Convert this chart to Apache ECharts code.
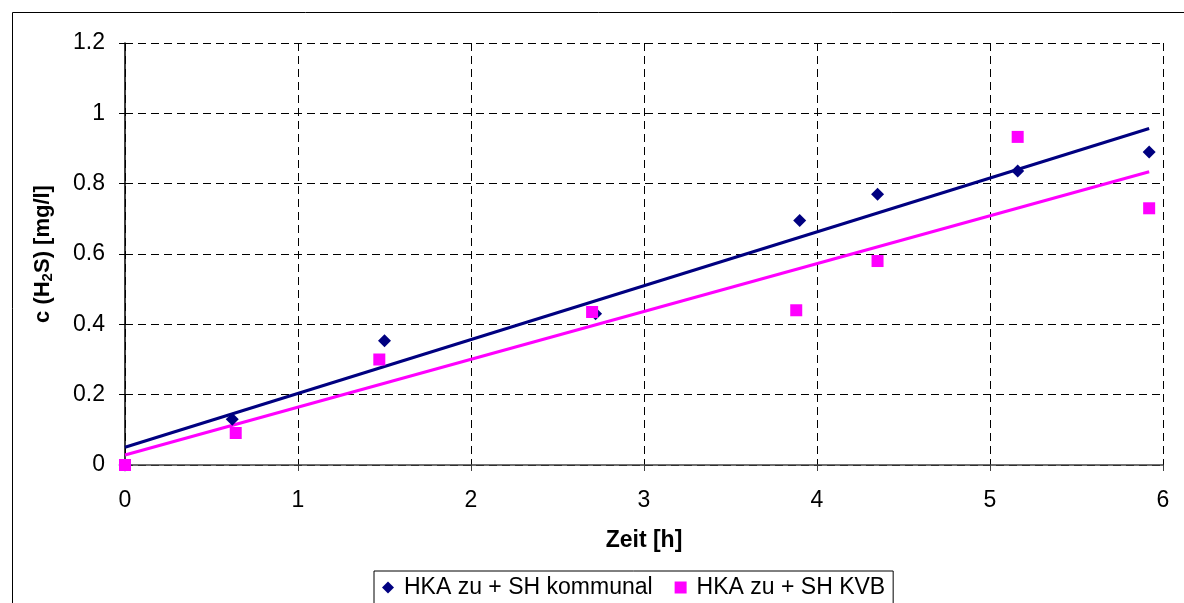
<!DOCTYPE html>
<html>
<head>
<meta charset="utf-8">
<script src="https://cdn.jsdelivr.net/npm/echarts@6/dist/echarts.min.js"></script>
<style>
  html, body { margin: 0; padding: 0; background: #fff; }
  #chart { width: 1184px; height: 603px; }
</style>
</head>
<body>
<div id="chart"></div>
<script>
// Measured H2S concentration over time for two inflow variants
const seriesNames = ['HKA zu + SH kommunal', 'HKA zu + SH KVB'];
const zeitKommunal = [0, 0.62, 1.50, 2.72, 3.90, 4.35, 5.16, 5.92];
const h2sKommunal  = [0, 0.13, 0.353, 0.43, 0.695, 0.77, 0.836, 0.89];
const zeitKVB      = [0, 0.64, 1.47, 2.70, 3.88, 4.35, 5.16, 5.92];
const h2sKVB       = [0, 0.091, 0.30, 0.435, 0.44, 0.58, 0.933, 0.73];
const xTicks = [0, 1, 2, 3, 4, 5, 6];
const yTicks = [0, 0.2, 0.4, 0.6, 0.8, 1, 1.2];

const FONT = '"Liberation Sans", Arial, sans-serif';
const NAVY = '#000080';
const PINK = '#FF00FF';

function pairs(xs, ys) { return xs.map((x, i) => [x, ys[i]]); }

// Least-squares linear trend from 0 to the last sample time
function trend(xs, ys) {
  const n = xs.length;
  const mx = xs.reduce((a, b) => a + b, 0) / n;
  const my = ys.reduce((a, b) => a + b, 0) / n;
  let sxy = 0, sxx = 0;
  for (let i = 0; i < n; i++) { sxy += (xs[i] - mx) * (ys[i] - my); sxx += (xs[i] - mx) ** 2; }
  const m = sxy / sxx, b = my - m * mx;
  const xEnd = Math.max(...xs);
  return [[0, b], [xEnd, b + m * xEnd]];
}

const chart = echarts.init(document.getElementById('chart'), null, { renderer: 'canvas' });
chart.setOption({
  animation: false,
  backgroundColor: '#fff',
  textStyle: { fontFamily: FONT },
  graphic: [{
    type: 'rect', left: 10, top: 10, z: -1,
    shape: { width: 1200, height: 620 },
    style: { fill: 'none', stroke: '#000', lineWidth: 1 }
  }],
  grid: { left: 125, top: 43, width: 1038, height: 422, containLabel: false },
  xAxis: {
    type: 'value', min: xTicks[0], max: xTicks[xTicks.length - 1], interval: 1,
    name: 'Zeit [h]', nameLocation: 'middle', nameGap: 64,
    nameTextStyle: { fontFamily: FONT, fontSize: 23, fontWeight: 'bold', color: '#000' },
    axisLine: { onZero: false, lineStyle: { color: '#404040', width: 1.5 } },
    axisTick: { show: true, length: 6, lineStyle: { color: '#404040' } },
    axisLabel: { fontFamily: FONT, fontSize: 23, color: '#000', margin: 24 },
    splitLine: { show: true, lineStyle: { color: '#000', type: [8, 5], width: 1 } }
  },
  yAxis: {
    type: 'value', min: yTicks[0], max: yTicks[yTicks.length - 1], interval: 0.2,
    name: '{a|c (H}{s|2}{a|S) [mg/l]}', nameLocation: 'middle', nameGap: 70,
    nameTextStyle: {
      color: '#000',
      rich: {
        a: { fontFamily: FONT, fontSize: 22, fontWeight: 'bold', color: '#000' },
        s: { fontFamily: FONT, fontSize: 15, fontWeight: 'bold', color: '#000', padding: [10, 0, 0, 0] }
      }
    },
    axisLine: { show: true, lineStyle: { color: '#000', width: 1.5 } },
    axisTick: { show: true, length: 6, lineStyle: { color: '#000' } },
    axisLabel: { fontFamily: FONT, fontSize: 23, color: '#000', margin: 20 },
    splitLine: { show: true, lineStyle: { color: '#000', type: [8, 5], width: 1 } }
  },
  legend: {
    left: 374, top: 571,
    padding: [5, 8, 10, 8],
    borderColor: '#000', borderWidth: 1,
    itemWidth: 12, itemHeight: 12, itemGap: 22,
    textStyle: { fontFamily: FONT, fontSize: 23, color: '#000', padding: [0, 0, 0, 5] },
    data: [
      { name: seriesNames[0], icon: 'diamond', itemStyle: { color: NAVY, opacity: 1 } },
      { name: seriesNames[1], icon: 'rect', itemStyle: { color: PINK, opacity: 1 } }
    ]
  },
  series: [
    {
      type: 'line', data: trend(zeitKommunal, h2sKommunal), showSymbol: false, silent: true,
      lineStyle: { color: NAVY, width: 3 }, z: 2
    },
    {
      type: 'line', data: trend(zeitKVB, h2sKVB), showSymbol: false, silent: true,
      lineStyle: { color: PINK, width: 3 }, z: 2
    },
    {
      name: seriesNames[0], type: 'scatter', data: pairs(zeitKommunal, h2sKommunal),
      symbol: 'diamond', symbolSize: 13, itemStyle: { color: NAVY, opacity: 1 }, z: 3
    },
    {
      name: seriesNames[1], type: 'scatter', data: pairs(zeitKVB, h2sKVB),
      symbol: 'rect', symbolSize: 12, itemStyle: { color: PINK, opacity: 1 }, z: 4
    }
  ]
});
</script>
</body>
</html>
